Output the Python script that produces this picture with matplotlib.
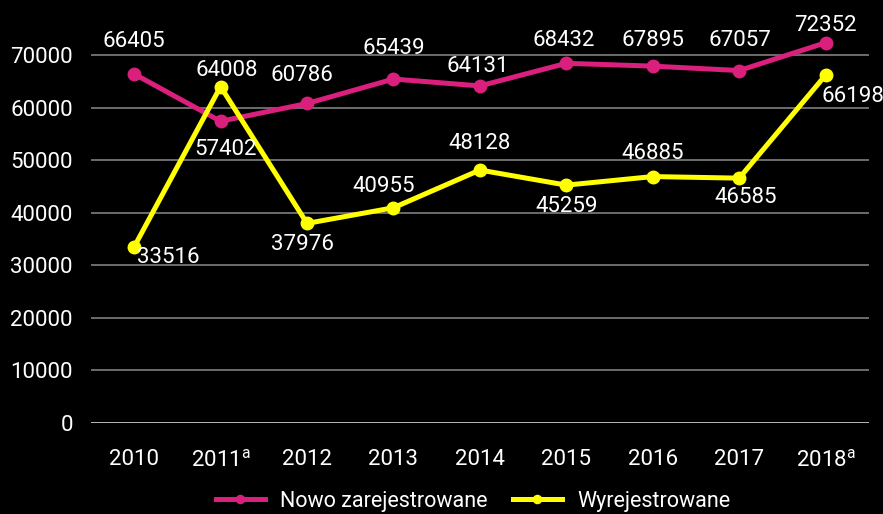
import matplotlib.pyplot as plt
import matplotlib.ticker as ticker

years = ['2010', '2011$^{\\mathregular{a}}$', '2012', '2013', '2014', '2015', '2016', '2017',
         '2018$^{\\mathregular{a}}$']
nowo = [66405, 57402, 60786, 65439, 64131, 68432, 67895, 67057, 72352]
wyrej = [33516, 64008, 37976, 40955, 48128, 45259, 46885, 46585, 66198]

# label offsets in pixels (dx, dy)
nowo_off = [(0, 32), (5, -28), (-5, 28), (0, 31), (-2, 19), (-3, 23), (0, 26), (1, 30), (0, 17)]
wyrej_off = [(34, -11), (6, 16), (-5, -21), (-10, 21), (0, 27), (0, -21), (0, 23), (6, -19), (27, -21)]

MAGENTA = '#DA1F7D'
YELLOW = '#FFFF00'

plt.rcParams['font.family'] = ['Roboto', 'DejaVu Sans']
plt.rcParams['mathtext.default'] = 'regular'

fig = plt.figure(figsize=(8.83, 5.14), dpi=100, facecolor='black')
ax = fig.add_axes([0.103, 0.177, 0.881, 0.767], facecolor='black')

x = range(len(years))
ax.plot(x, nowo, color=MAGENTA, linewidth=3.6, marker='o', markersize=9,
        label='Nowo zarejestrowane', zorder=3)
ax.plot(x, wyrej, color=YELLOW, linewidth=3.6, marker='o', markersize=9,
        label='Wyrejestrowane', zorder=3)

for i in x:
    ax.annotate(str(nowo[i]), (i, nowo[i]), xytext=nowo_off[i], textcoords='offset pixels',
                ha='center', va='center', color='white', fontsize=16)
    ax.annotate(str(wyrej[i]), (i, wyrej[i]), xytext=wyrej_off[i], textcoords='offset pixels',
                ha='center', va='center', color='white', fontsize=16)

ax.set_xlim(-0.5, len(years) - 0.5)
ax.set_ylim(0, 75000)
ax.set_yticks(range(0, 70001, 10000))
ax.yaxis.set_major_formatter(ticker.FuncFormatter(lambda v, p: str(int(v))))
ax.set_xticks(list(x))
ax.set_xticklabels(years)

ax.grid(axis='y', color='#8a8a8a', linewidth=1.1)
ax.axhline(0, color='#bdbdbd', linewidth=2, zorder=2)
ax.set_axisbelow(True)
for s in ax.spines.values():
    s.set_visible(False)
ax.tick_params(axis='both', length=0, colors='white', labelsize=16)
ax.tick_params(axis='x', pad=19)
ax.tick_params(axis='y', pad=13)

leg = fig.legend(loc='center', bbox_to_anchor=(473 / 883, 1 - 501 / 514), ncol=2,
                 frameon=False, fontsize=15.5, labelcolor='white', handlelength=2.3,
                 columnspacing=1.15, handletextpad=0.7, markerscale=0.65,
                 borderpad=0.1)

fig.savefig('out.png', dpi=100, facecolor='black')
